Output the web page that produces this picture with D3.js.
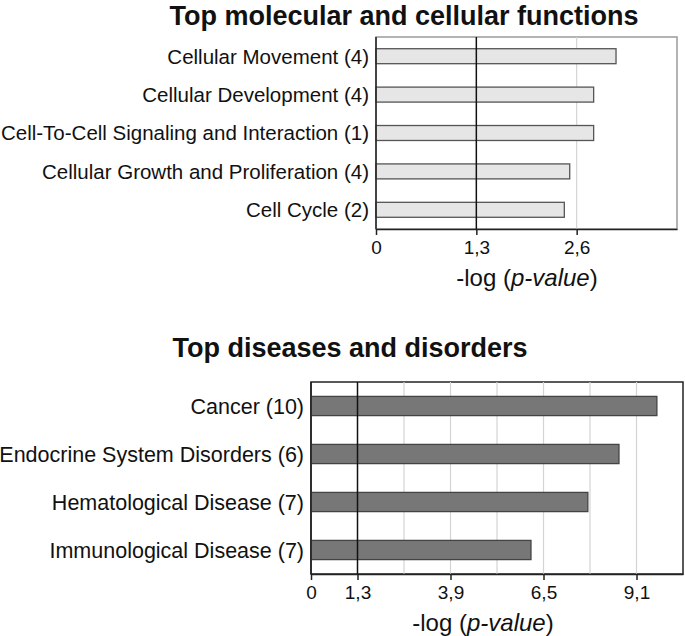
<!DOCTYPE html>
<html>
<head>
<meta charset="utf-8">
<script src="https://cdn.jsdelivr.net/npm/d3@7"></script>
<style>
  body { margin: 0; background: #fff; }
  svg { display: block; font-family: "Liberation Sans", Arial, sans-serif; }
</style>
</head>
<body>
<svg></svg>
<script>
// données
const fonctions = ["Cellular Movement (4)", "Cellular Development (4)",
  "Cell-To-Cell Signaling and Interaction (1)", "Cellular Growth and Proliferation (4)", "Cell Cycle (2)"];
const fonctionsValeurs = [3.11, 2.82, 2.82, 2.51, 2.44];
const fonctionsTicks = [0, 1.3, 2.6];
const fonctionsGrille = [2.6];

const maladies = ["Cancer (10)", "Endocrine System Disorders (6)",
  "Hematological Disease (7)", "Immunological Disease (7)"];
const maladiesValeurs = [9.67, 8.61, 7.74, 6.15];
const maladiesTicks = [0, 1.3, 3.9, 6.5, 9.1];
const maladiesGrille = [2.6, 3.9, 5.2, 6.5, 7.8, 9.1];

const seuil = 1.3;

const width = 685;
const height = 636;
const svg = d3.select("svg").attr("width", width).attr("height", height);

const virgule = d => d === 0 ? "0" : d3.format(".1f")(d).replace(".", ",");

function dessinePanneau(cfg) {
  const x = d3.scaleLinear().domain([0, cfg.max]).range([cfg.left, cfg.right]);
  const y = d3.scaleBand().domain(cfg.noms).range([cfg.top, cfg.bottom])
    .paddingInner(cfg.padding).paddingOuter(cfg.padding / 2);
  const g = svg.append("g");

  // titre
  g.append("text")
    .attr("x", cfg.titreX).attr("y", cfg.titreY)
    .attr("text-anchor", "middle")
    .attr("font-size", 27).attr("font-weight", "bold").attr("fill", "#111")
    .text(cfg.titre);

  // cadre
  g.append("rect")
    .attr("x", cfg.left).attr("y", cfg.top)
    .attr("width", cfg.right - cfg.left).attr("height", cfg.bottom - cfg.top)
    .attr("fill", "none").attr("stroke", cfg.cadre).attr("stroke-width", 1.5);

  // grille
  g.selectAll(".grille").data(cfg.grille).join("line")
    .attr("x1", d => x(d)).attr("x2", d => x(d))
    .attr("y1", cfg.top).attr("y2", cfg.bottom)
    .attr("stroke", "#d4d4d4").attr("stroke-width", 1.2);

  // barres
  g.selectAll(".barre").data(cfg.valeurs).join("rect")
    .attr("x", x(0))
    .attr("y", (d, i) => y(cfg.noms[i]))
    .attr("width", d => x(d) - x(0))
    .attr("height", y.bandwidth())
    .attr("fill", cfg.remplissage)
    .attr("stroke", cfg.contour).attr("stroke-width", 1.3);

  // ligne du seuil
  g.append("line")
    .attr("x1", x(seuil)).attr("x2", x(seuil))
    .attr("y1", cfg.top).attr("y2", cfg.bottom)
    .attr("stroke", "#111").attr("stroke-width", 1.5);

  // axe gauche
  g.append("line")
    .attr("x1", cfg.left).attr("x2", cfg.left)
    .attr("y1", cfg.top).attr("y2", cfg.bottom)
    .attr("stroke", "#222").attr("stroke-width", 1.5);

  // étiquettes
  g.selectAll(".label").data(cfg.noms).join("text")
    .attr("x", cfg.left - 7)
    .attr("y", d => y(d) + y.bandwidth() / 2)
    .attr("dy", "0.36em")
    .attr("text-anchor", "end")
    .attr("font-size", cfg.taille).attr("fill", "#111")
    .text(d => d);

  // axe du bas
  const axe = g.append("g")
    .attr("transform", `translate(0,${cfg.bottom})`)
    .call(d3.axisBottom(x).tickValues(cfg.ticks).tickFormat(virgule).tickSize(6).tickSizeOuter(0).tickPadding(6));
  axe.select(".domain").attr("stroke", "#222").attr("stroke-width", 1.5);
  axe.selectAll(".tick line").attr("stroke", "#222").attr("stroke-width", 1.5);
  axe.selectAll(".tick text")
    .attr("font-size", 19).attr("fill", "#111")
    .attr("font-family", "'Liberation Sans', Arial, sans-serif");

  // titre de l'axe
  const t = g.append("text")
    .attr("x", cfg.axeX).attr("y", cfg.bottom + 57)
    .attr("text-anchor", "middle")
    .attr("font-size", 24).attr("fill", "#111");
  t.append("tspan").text("-log (");
  t.append("tspan").attr("font-style", "italic").text("p-value");
  t.append("tspan").text(")");
}

dessinePanneau({
  titre: "Top molecular and cellular functions", titreX: 404, titreY: 25,
  noms: fonctions, valeurs: fonctionsValeurs, ticks: fonctionsTicks, grille: fonctionsGrille,
  max: 3.9, left: 376, right: 677, top: 37, bottom: 229, padding: 0.61, taille: 20.5,
  cadre: "#9a9a9a", remplissage: "#e6e6e6", contour: "#555", axeX: 527
});

dessinePanneau({
  titre: "Top diseases and disorders", titreX: 350, titreY: 357,
  noms: maladies, valeurs: maladiesValeurs, ticks: maladiesTicks, grille: maladiesGrille,
  max: 10.4, left: 311, right: 683, top: 382, bottom: 574, padding: 0.6, taille: 21.5,
  cadre: "#222", remplissage: "#777", contour: "#444", axeX: 483
});
</script>
</body>
</html>
